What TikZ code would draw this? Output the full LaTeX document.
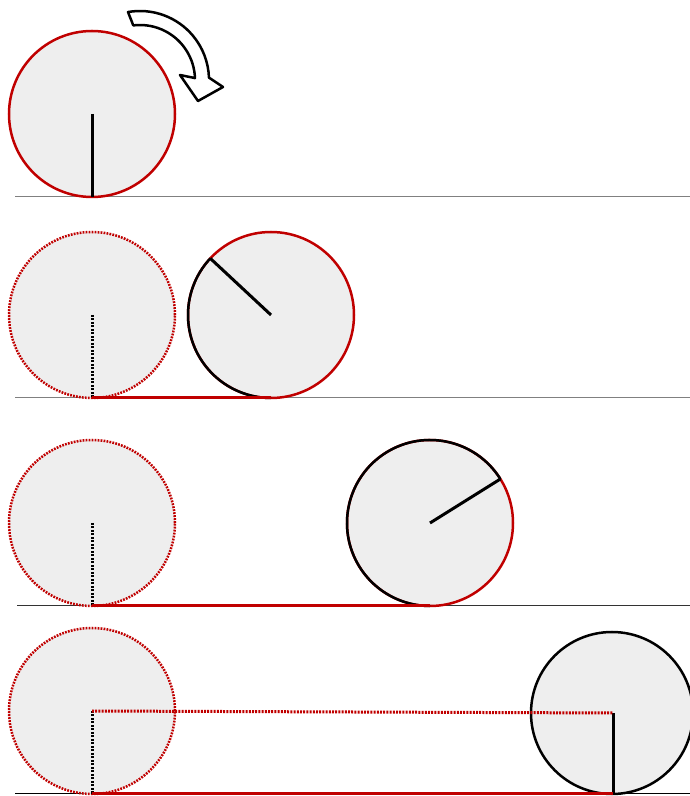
\documentclass[tikz,border=0pt]{standalone}
\usepackage{tikz}

\definecolor{wheelred}{HTML}{C00000}
\definecolor{wheelfill}{HTML}{EEEEEE}

\begin{document}
\begin{tikzpicture}[x=1pt,y=1pt]
        \useasboundingbox (0,0) rectangle (690,796);
        % ground lines
        \begin{scope}[every path/.style={line width=1pt}]
                \coordinate (g0) at (15,599);
                \coordinate (h0) at (690,599);
                \coordinate (g1) at (15,398);
                \coordinate (h1) at (690,398);
                \coordinate (g2) at (17,190);
                \coordinate (h2) at (690,190);
                \coordinate (g3) at (15,2);
                \coordinate (h3) at (690,2);
                \draw[gray] (g0) -- (h0);
                \draw[gray] (g1) -- (h1);
                \draw[black!80] (g2) -- (h2);
                \draw[black] (g3) -- (h3);
        \end{scope}
        % wheels
        \begin{scope}[every node/.style={circle, draw=wheelred, fill=wheelfill, line width=2.5pt, minimum size=166pt, inner sep=0, outer sep=0}]
                \node (0) at (92,682) {};
                \node [dash pattern=on 1.8pt off 1.2pt] (1) at (92,481) {};
                \node (2) at (271,481) {};
                \node [dash pattern=on 1.8pt off 1.2pt] (3) at (92,273) {};
                \node (4) at (430,273) {};
                \node [dash pattern=on 1.8pt off 1.2pt] (5) at (92,85) {};
                \node [draw=black, minimum size=162pt] (6) at (612,83) {};
        \end{scope}
        % rolled part of the rim
        \draw[black, line width=2.5pt] (2.137) arc [start angle=137, end angle=270, radius=83];
        \draw[black, line width=2.5pt] (4.32) arc [start angle=32, end angle=270, radius=83];
        % spokes and track
        \begin{scope}[every path/.style={line width=3pt}]
                \draw[black] (0.center) -- (0.south);
                \draw[black] (2.center) -- (2.137);
                \draw[black] (4.center) -- (4.32);
                \draw[black] ([xshift=1pt]6.center) -- ([xshift=1pt]6.south);
                \draw[black, dash pattern=on 2pt off 1.5pt] (1.center) -- (1.south);
                \draw[black, dash pattern=on 2pt off 1.5pt] (3.center) -- (3.south);
                \draw[black, dash pattern=on 2pt off 1.5pt] (5.center) -- (5.south);
                \draw[wheelred, dash pattern=on 2pt off 1.2pt] (5.center) -- ([xshift=1pt]6.center);
                \draw[wheelred] (1.south) -- (2.south);
                \draw[wheelred] (3.south) -- (4.south);
                \draw[wheelred] (5.south) -- ([xshift=1pt]6.south);
        \end{scope}
        % turning arrow
        \coordinate (A) at (140,716);
        \draw[black, fill=white, line width=2.5pt, line join=round] ([shift={(100:69)}]A) arc [start angle=100, end angle=2, radius=69]
                -- (223,709) -- (198,695) -- (180,721)
                -- ([shift={(2:55)}]A) arc [start angle=2, end angle=97, radius=55] -- cycle;
\end{tikzpicture}
\end{document}
